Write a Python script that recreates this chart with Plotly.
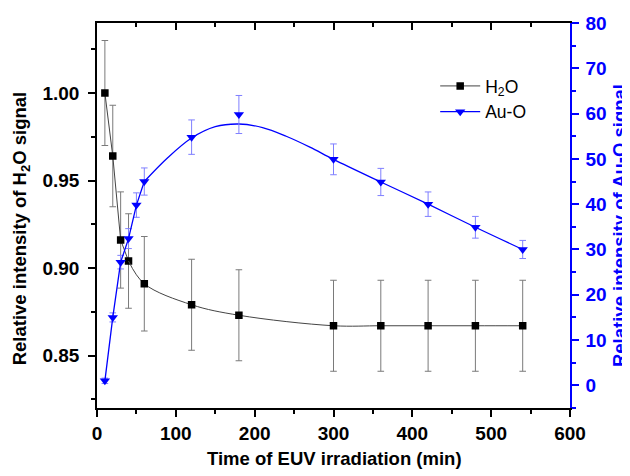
import plotly.graph_objects as go

# ---- data ----
h2o_time = [10, 20, 30, 40, 60, 120, 180, 300, 360, 420, 480, 540]
h2o_val = [1.000, 0.964, 0.916, 0.904, 0.891, 0.879, 0.873, 0.867, 0.867, 0.867, 0.867, 0.867]
h2o_err = [0.030, 0.029, 0.0275, 0.027, 0.027, 0.026, 0.026, 0.026, 0.026, 0.026, 0.026, 0.026]

auo_time = [10, 20, 30, 40, 50, 60, 120, 180, 300, 360, 420, 480, 540]
auo_val = [1, 15, 27.2, 32.4, 39.8, 45, 54.8, 59.8, 49.9, 44.9, 40, 34.9, 30]
auo_err = [0.6, 1.0, 1.5, 2.2, 2.7, 3.0, 3.8, 4.2, 3.4, 3.0, 2.7, 2.4, 2.0]

# fitted curve for Au-O
auo_fit_time = [60, 90, 120, 150, 180, 210, 240, 270, 300, 360, 420, 480, 540]
auo_fit_val = [45, 50.3, 54.6, 57.1, 57.7, 56.9, 55.0, 52.6, 49.9, 44.9, 40, 34.9, 30]

x_ticks = [0, 100, 200, 300, 400, 500, 600]

BLUE = "#0000ff"
FONT = "Arial, Liberation Sans, sans-serif"

fig = go.Figure()

# H2O: first straight segment (legend entry)
fig.add_trace(go.Scatter(
    x=h2o_time[:4], y=h2o_val[:4], mode="lines+markers", name="H<sub>2</sub>O",
    line=dict(color="#444444", width=1),
    marker=dict(symbol="square", size=7.5, color="black"),
    error_y=dict(type="data", array=h2o_err[:4], color="#7a7a7a", thickness=1, width=3.3),
))
# H2O smooth curve
fig.add_trace(go.Scatter(
    x=h2o_time[3:], y=h2o_val[3:], mode="lines", showlegend=False,
    line=dict(color="#444444", width=1, shape="spline", smoothing=1),
))
fig.add_trace(go.Scatter(
    x=h2o_time[4:], y=h2o_val[4:], mode="markers", showlegend=False,
    marker=dict(symbol="square", size=7.5, color="black"),
    error_y=dict(type="data", array=h2o_err[4:], color="#7a7a7a", thickness=1, width=3.3),
))

# Au-O
fig.add_trace(go.Scatter(
    x=auo_time[:6], y=auo_val[:6], mode="lines+markers", name="Au-O", yaxis="y2",
    line=dict(color=BLUE, width=1.3),
    marker=dict(symbol="triangle-down", size=9, color=BLUE),
    error_y=dict(type="data", array=auo_err[:6], color="#7f7fff", thickness=1, width=3.3),
))
fig.add_trace(go.Scatter(
    x=auo_fit_time, y=auo_fit_val, mode="lines", showlegend=False, yaxis="y2",
    line=dict(color=BLUE, width=1.3, shape="spline", smoothing=1),
))
fig.add_trace(go.Scatter(
    x=auo_time[6:], y=auo_val[6:], mode="markers", showlegend=False, yaxis="y2",
    marker=dict(symbol="triangle-down", size=9, color=BLUE),
    error_y=dict(type="data", array=auo_err[6:], color="#7f7fff", thickness=1, width=3.3),
))
# invisible trace so the top axis is drawn
fig.add_trace(go.Scatter(x=[0], y=[0.9], xaxis="x2", mode="markers", marker=dict(opacity=0),
                         showlegend=False, hoverinfo="skip"))

tickfont = dict(family=FONT, size=19, color="black", weight="bold")
titlefont = dict(family=FONT, size=18.5, color="black", weight="bold")

fig.update_layout(
    width=622, height=468,
    margin=dict(l=89, r=60, t=15, b=68, autoexpand=False),
    paper_bgcolor="white", plot_bgcolor="white",
    font=dict(family=FONT),
    xaxis=dict(
        range=[0, 600], tickvals=x_ticks, ticks="outside", ticklen=7, tickwidth=1.5,
        tickcolor="black", showline=True, linecolor="black", linewidth=1.5,
        showgrid=False, zeroline=False, tickfont=tickfont, automargin=False,
        minor=dict(dtick=50, ticklen=4, tickwidth=1.5, tickcolor="black", ticks="outside", showgrid=False),
    ),
    xaxis2=dict(
        range=[0, 600], overlaying="x", side="top", anchor="y", tickvals=x_ticks,
        ticks="inside", ticklen=7, tickwidth=1.5, tickcolor="black",
        showline=True, linecolor="black", linewidth=1.5, showticklabels=False,
        showgrid=False, zeroline=False, automargin=False,
        minor=dict(dtick=50, ticklen=4, tickwidth=1.5, tickcolor="black", ticks="inside", showgrid=False),
    ),
    yaxis=dict(
        range=[0.82, 1.04], dtick=0.05, tick0=0.85, tickformat=".2f", ticks="outside",
        ticklen=7, tickwidth=1.5, tickcolor="black", showline=True, linecolor="black",
        linewidth=1.5, showgrid=False, zeroline=False, tickfont=tickfont, automargin=False,
        ticklabelstandoff=5,
        minor=dict(dtick=0.025, ticklen=4, tickwidth=1.5, tickcolor="black", ticks="outside", showgrid=False),
    ),
    yaxis2=dict(
        range=[-5, 80], dtick=10, tick0=0, overlaying="y", side="right", anchor="x",
        ticks="outside", ticklen=7, tickwidth=1.5, tickcolor=BLUE, showline=True,
        linecolor=BLUE, linewidth=1.5, showgrid=False, zeroline=False, automargin=False,
        ticklabelstandoff=3,
        tickfont=dict(family=FONT, size=19, color=BLUE, weight="bold"),
        minor=dict(dtick=5, ticklen=4, tickwidth=1.5, tickcolor=BLUE, ticks="outside", showgrid=False),
    ),
    legend=dict(
        x=0.715, y=0.883, xanchor="left", yanchor="top", bgcolor="rgba(0,0,0,0)",
        font=dict(family=FONT, size=17.5, color="black"), tracegroupgap=0, itemwidth=40,
    ),
    showlegend=True,
    annotations=[
        dict(text="Time of EUV irradiation (min)", xref="paper", yref="paper",
             x=0.503, y=-0.13, xanchor="center", yanchor="middle", showarrow=False,
             font=titlefont),
        dict(text="Relative intensity of H<sub>2</sub>O signal", xref="paper", yref="paper",
             x=-0.16, y=0.465, xanchor="center", yanchor="middle", showarrow=False,
             textangle=-90, font=titlefont),
        dict(text="Relative intensity of Au-O signal", xref="paper", yref="paper",
             x=1.106, y=0.473, xanchor="center", yanchor="middle", showarrow=False,
             textangle=-90, font=dict(family=FONT, size=18.5, color=BLUE, weight="bold")),
    ],
)

fig.write_html("out.html")
